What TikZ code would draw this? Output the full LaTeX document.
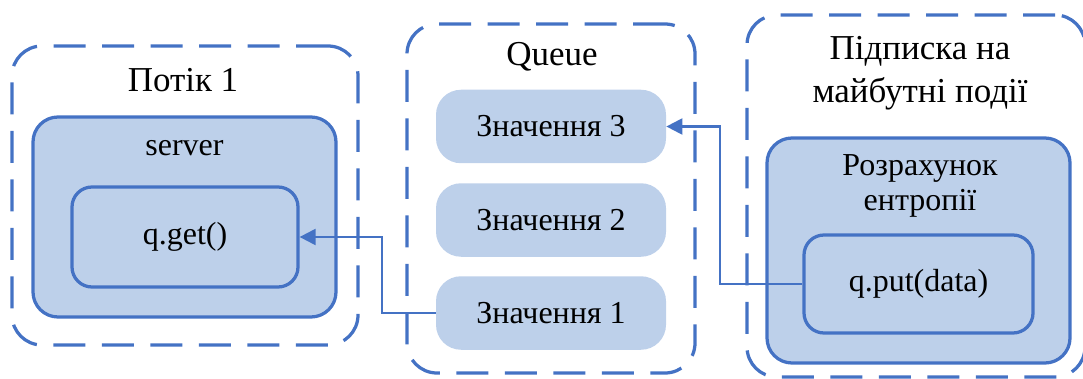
\documentclass[tikz,border=0pt]{standalone}
\usepackage{fontspec}
\setmainfont{Liberation Serif}
\usepackage{xcolor}
\usetikzlibrary{arrows.meta}

\definecolor{edgeblue}{HTML}{4472C4}
\definecolor{fillblue}{HTML}{BDD0EA}

\tikzset{
  groupbox/.style={draw=edgeblue, line width=0.065cm, dash pattern=on 0.64cm off 0.33cm,
    rounded corners=0.6cm, inner sep=0pt},
  blockbox/.style={draw=edgeblue, fill=fillblue, line width=0.065cm,
    rounded corners=0.5cm, inner sep=0pt, font=\fontsize{18.2}{19.9}\selectfont},
  itembox/.style={fill=fillblue, rounded corners=0.5cm, inner sep=0pt,
    minimum width=4.6cm, minimum height=1.47cm, font=\fontsize{18.2}{19.9}\selectfont},
  titletxt/.style={inner sep=0pt, font=\fontsize{19.9}{24.4}\selectfont},
  txt/.style={inner sep=0pt, font=\fontsize{18.2}{19.9}\selectfont},
  link/.style={draw=edgeblue, line width=0.045cm, -{Triangle[length=0.32cm, width=0.32cm]}}
}

\begin{document}
\begin{tikzpicture}
\clip (0,0) rectangle (21.66,7.56);

\node[groupbox, minimum width=6.92cm, minimum height=5.98cm] (thread) at (3.70,3.65) {};
\node[titletxt] (threadtitle) at (3.66,5.96) {Потік 1};
\node[blockbox, minimum width=6.06cm, minimum height=4.0cm] (server) at (3.69,3.22) {};
\node[txt] (servertitle) at (3.69,4.60) {server};
\node[blockbox, rounded corners=0.4cm, minimum width=4.52cm, minimum height=2.0cm] (qget) at (3.70,2.82) {q.get()};

\node[groupbox, minimum width=5.76cm, minimum height=6.98cm] (queue) at (11.02,3.59) {};
\node[titletxt] (queuetitle) at (11.04,6.42) {Queue};
\node[itembox] (v3) at (11.02,5.03) {Значення 3};
\node[itembox] (v2) at (11.02,3.16) {Значення 2};
\node[itembox] (v1) at (11.02,1.30) {Значення 1};

\node[groupbox, minimum width=6.76cm, minimum height=7.24cm] (events) at (18.32,3.64) {};
\node[titletxt, align=center] (eventstitle) at (18.40,6.09) {Підписка на\\майбутні події};
\node[blockbox, minimum width=6.06cm, minimum height=4.5cm] (entropy) at (18.37,2.55) {};
\node[txt, align=center] (entropytitle) at (18.40,3.85) {Розрахунок\\ентропії};
\node[blockbox, rounded corners=0.4cm, minimum width=4.58cm, minimum height=1.96cm] (qput) at (18.37,1.88) {q.put(data)};

\coordinate (bendA) at (7.64,0);
\coordinate (bendB) at (14.40,0);
\draw[link] (v1.west) -- (v1.west -| bendA) |- (qget.east);
\draw[link] (qput.west) -- (qput.west -| bendB) |- (v3.east);
\end{tikzpicture}
\end{document}
